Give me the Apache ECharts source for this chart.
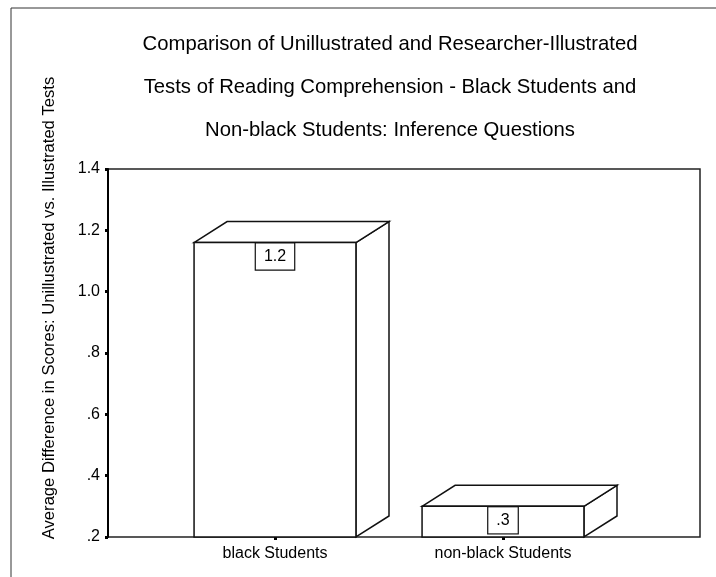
<!DOCTYPE html>
<html>
<head>
<meta charset="utf-8">
<script src="https://cdn.jsdelivr.net/npm/echarts@6/dist/echarts.min.js"></script>
<style>
  html, body { margin: 0; padding: 0; background: #fff; }
  #chart { width: 716px; height: 577px; }
</style>
</head>
<body>
<div id="chart"></div>
<script>
// Groups and their mean score differences (unillustrated vs. illustrated)
const categories = ['black Students', 'non-black Students'];
const meanDifference = [1.16, 0.30];

// Value axis range
const yMin = 0.2;
const yMax = 1.4;
const yStep = 0.2;

const titleLines = [
  'Comparison of Unillustrated and Researcher-Illustrated',
  'Tests of Reading Comprehension - Black Students and',
  'Non-black Students: Inference Questions'
];
const yAxisTitle = 'Average Difference in Scores: Unillustrated vs. Illustrated Tests';

const FONT = '"Liberation Sans", Arial, Helvetica, sans-serif';

// SPSS-style decimal formatting: 0.4 -> ".4", 1.0 -> "1.0"
function fmt(v) {
  const s = Number(v).toFixed(1);
  return s.startsWith('0.') ? s.slice(1) : s;
}

const seriesData = categories.map((c, i) => [i, meanDifference[i]]);

// Draws a 3-D box: front face, top face and right side face, plus a boxed value label
function renderBox(params, api) {
  const cat = api.value(0);
  const val = api.value(1);
  const top = api.coord([cat, val]);
  const base = api.coord([cat, yMin]);
  const band = api.size([1, 0])[0];
  const w = band * 0.71;
  const dx = band * 0.145;
  const dy = 21;
  const x0 = top[0] - w / 2;
  const x1 = top[0] + w / 2;
  const yt = top[1];
  const yb = base[1];
  const stroke = { fill: '#fff', stroke: '#111', lineWidth: 1.5 };
  return {
    type: 'group',
    children: [
      { type: 'polygon', shape: { points: [[x1, yt], [x1 + dx, yt - dy], [x1 + dx, yb - dy], [x1, yb]] }, style: stroke },
      { type: 'polygon', shape: { points: [[x0, yt], [x0 + dx, yt - dy], [x1 + dx, yt - dy], [x1, yt]] }, style: stroke },
      { type: 'rect', shape: { x: x0, y: yt, width: w, height: yb - yt }, style: stroke },
      {
        type: 'text',
        x: top[0],
        y: yt + 1,
        style: {
          text: fmt(val),
          fontFamily: FONT,
          fontSize: 16,
          fill: '#000',
          align: 'center',
          verticalAlign: 'top',
          backgroundColor: '#fff',
          borderColor: '#111',
          borderWidth: 1.2,
          padding: [5, 8, 5, 8]
        }
      }
    ]
  };
}

const chart = echarts.init(document.getElementById('chart'), null, { renderer: 'canvas' });

const gridTop = 169;
const gridBottom = 40;

chart.setOption({
  animation: false,
  backgroundColor: '#fff',
  textStyle: { fontFamily: FONT },
  graphic: [
    {
      type: 'rect',
      shape: { x: 11, y: 8, width: 760, height: 640 },
      style: { fill: 'none', stroke: '#333', lineWidth: 1 },
      silent: true
    },
    {
      type: 'text',
      x: 390,
      y: 23,
      style: {
        text: titleLines.join('\n'),
        fontFamily: FONT,
        fontSize: 20.3,
        lineHeight: 43,
        fill: '#000',
        align: 'center',
        verticalAlign: 'top'
      }
    },
    {
      type: 'text',
      x: 49,
      y: 308,
      rotation: Math.PI / 2,
      style: {
        text: yAxisTitle,
        fontFamily: FONT,
        fontSize: 16.6,
        fill: '#000',
        align: 'center',
        verticalAlign: 'middle'
      }
    }
  ],
  grid: [
    { left: 108, right: 16, top: gridTop, bottom: gridBottom, show: true, borderColor: '#222', borderWidth: 1.5, backgroundColor: 'transparent' },
    { left: 161, width: 456, top: gridTop, bottom: gridBottom }
  ],
  xAxis: [
    { gridIndex: 0, type: 'value', min: 0, max: 1, show: false },
    {
      gridIndex: 1,
      type: 'category',
      data: categories,
      boundaryGap: true,
      axisLine: { show: false },
      axisTick: { show: true, alignWithLabel: true, length: 3, lineStyle: { color: '#000', width: 3 } },
      axisLabel: { color: '#000', fontSize: 16, fontFamily: FONT, margin: 9 },
      splitLine: { show: false }
    }
  ],
  yAxis: [
    {
      gridIndex: 0,
      type: 'value',
      min: yMin,
      max: yMax,
      interval: yStep,
      axisLine: { show: true, lineStyle: { color: '#000', width: 2 } },
      axisTick: { show: true, length: 3, lineStyle: { color: '#000', width: 3 } },
      axisLabel: { color: '#000', fontSize: 16, fontFamily: FONT, margin: 8, formatter: fmt },
      splitLine: { show: false }
    },
    { gridIndex: 1, type: 'value', min: yMin, max: yMax, interval: yStep, show: false }
  ],
  series: [
    {
      type: 'custom',
      xAxisIndex: 1,
      yAxisIndex: 1,
      data: seriesData,
      encode: { x: 0, y: 1 },
      renderItem: renderBox,
      clip: false,
      z: 3
    }
  ]
});
</script>
</body>
</html>
